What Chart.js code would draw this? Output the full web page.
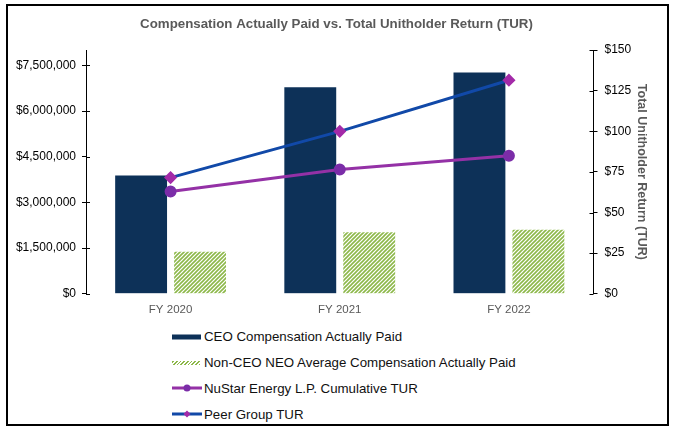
<!DOCTYPE html>
<html>
<head>
<meta charset="utf-8">
<script src="https://cdn.jsdelivr.net/npm/chart.js@4.4.1/dist/chart.umd.min.js"></script>
<style>
  html, body { margin: 0; padding: 0; background: #fff; }
  body { width: 673px; height: 430px; position: relative; overflow: hidden; font-family: 'Liberation Sans', Arial, sans-serif; }
  #wrap { position: absolute; left: 0; top: 0; width: 673px; height: 322px; }
  #frame { position: absolute; left: 6px; top: 4px; width: 663px; height: 422px; border: 2px solid #000; box-sizing: border-box; pointer-events: none; }
  #legend { position: absolute; left: 172px; top: 324px; }
  .row { display: flex; align-items: center; height: 25.8px; font-size: 13.3px; color: #111; }
  .sw { position: relative; width: 32px; height: 10px; flex: none; }
  .sw .box { position: absolute; left: 0; top: 50%; transform: translateY(-50%); }
  .sw .ln { position: absolute; left: 0; width: 30px; top: 50%; height: 3px; transform: translateY(-50%); }
  .sw .mk { position: absolute; left: 15px; top: 50%; }
</style>
</head>
<body>
<div id="wrap"><canvas id="chart"></canvas></div>
<div id="legend"></div>
<div id="frame"></div>
<script>
  const years = ['FY 2020', 'FY 2021', 'FY 2022'];
  const ceoPaid = [3880000, 6780000, 7270000];
  const neoPaid = [1380000, 2020000, 2100000];
  const nustarTur = [63, 76.5, 85];
  const peerTur = [71.5, 100, 131.5];
  const payTicks = [0, 1500000, 3000000, 4500000, 6000000, 7500000];
  const turTicks = [0, 25, 50, 75, 100, 125, 150];
  const seriesNames = [
    'CEO Compensation Actually Paid',
    'Non-CEO NEO Average Compensation Actually Paid',
    'NuStar Energy L.P. Cumulative TUR',
    'Peer Group TUR'
  ];

  const navy = '#0D3158';
  const green = '#8DB84A';

  // hatch fill for the non-CEO bars
  function hatch() {
    const s = 4;
    const c = document.createElement('canvas');
    c.width = s; c.height = s;
    const g = c.getContext('2d');
    g.fillStyle = '#fff';
    g.fillRect(0, 0, s, s);
    g.strokeStyle = green;
    g.lineWidth = 1.6;
    g.beginPath();
    g.moveTo(-1, s + 1); g.lineTo(s + 1, -1);
    g.moveTo(-1, 1); g.lineTo(1, -1);
    g.moveTo(s - 1, s + 1); g.lineTo(s + 1, s - 1);
    g.stroke();
    return g.createPattern(c, 'repeat');
  }

  // short tick marks on the inside of both value axes
  const innerTicks = {
    id: 'innerTicks',
    afterDraw(chart) {
      const ctx = chart.ctx;
      ctx.save();
      ctx.strokeStyle = '#000';
      ctx.lineWidth = 1;
      ['y', 'y1'].forEach(id => {
        const sc = chart.scales[id];
        const x0 = id === 'y' ? sc.right : sc.left;
        const dir = id === 'y' ? 1 : -1;
        sc.ticks.forEach((t, i) => {
          const y = Math.round(sc.getPixelForTick(i)) + 0.5;
          ctx.beginPath();
          ctx.moveTo(x0, y);
          ctx.lineTo(x0 + dir * 4, y);
          ctx.stroke();
        });
      });
      ctx.restore();
    }
  };

  const money = v => '$' + Number(v).toLocaleString('en-US');

  new Chart(document.getElementById('chart'), {
    data: {
      labels: years,
      datasets: [
        { type: 'bar', label: seriesNames[0], data: ceoPaid, backgroundColor: navy, yAxisID: 'y', order: 2,
          categoryPercentage: 0.697, barPercentage: 0.88 },
        { type: 'bar', label: seriesNames[1], data: neoPaid, backgroundColor: hatch(), yAxisID: 'y', order: 2,
          categoryPercentage: 0.697, barPercentage: 0.88 },
        { type: 'line', label: seriesNames[2], data: nustarTur, yAxisID: 'y1', order: 1,
          borderColor: '#9431A6', borderWidth: 3, pointStyle: 'circle', pointRadius: 4.5,
          pointBackgroundColor: '#7B2DA8', pointBorderColor: '#7B2DA8', tension: 0 },
        { type: 'line', label: seriesNames[3], data: peerTur, yAxisID: 'y1', order: 1,
          borderColor: '#1149A8', borderWidth: 3, pointStyle: 'rectRot', pointRadius: 4.5,
          pointBackgroundColor: '#A32AA8', pointBorderColor: '#A32AA8', tension: 0 }
      ]
    },
    options: {
      responsive: true,
      maintainAspectRatio: false,
      animation: false,
      layout: { padding: 0 },
      plugins: {
        legend: { display: false },
        tooltip: { enabled: false },
        title: {
          display: true,
          text: 'Compensation Actually Paid vs. Total Unitholder Return (TUR)',
          color: '#595959',
          font: { family: 'Liberation Sans', size: 13.3, weight: 'bold' },
          padding: { top: 16.6, bottom: 17.6 }
        }
      },
      scales: {
        x: {
          grid: { display: false },
          border: { display: false },
          ticks: { color: '#595959', font: { family: 'Liberation Sans', size: 11.5 }, padding: 1 },
          afterFit: s => { s.height = 28.3; }
        },
        y: {
          position: 'left',
          min: 0, max: 8000000,
          grid: { drawOnChartArea: false, color: '#000', tickLength: 4 },
          border: { color: '#000', width: 1 },
          ticks: { color: '#000', padding: 6,
                   font: { family: 'Liberation Sans', size: 12 }, callback: money },
          afterBuildTicks: s => { s.ticks = payTicks.map(v => ({ value: v })); },
          afterFit: s => { s.width = 86; }
        },
        y1: {
          position: 'right',
          min: 0, max: 150,
          grid: { drawOnChartArea: false, color: '#000', tickLength: 4 },
          border: { color: '#000', width: 1 },
          ticks: { color: '#000', padding: 7,
                   font: { family: 'Liberation Sans', size: 12 }, callback: money },
          afterBuildTicks: s => { s.ticks = turTicks.map(v => ({ value: v })); },
          title: { display: true, text: 'Total Unitholder Return (TUR)', color: '#595959',
                   font: { family: 'Liberation Sans', size: 12.5, weight: 'bold' }, padding: { top: 24 } },
          afterFit: s => { s.width = 79.5; }
        }
      }
    },
    plugins: [innerTicks]
  });

  // legend in a single column under the plot
  const swatches = [
    `<span class="box" style="width:29px;height:5px;background:${navy}"></span>`,
    `<span class="box" style="width:28px;height:4px;background:repeating-linear-gradient(-45deg, ${green} 0 1.2px, #fff 1.2px 2.6px)"></span>`,
    `<span class="ln" style="background:#9431A6"></span><span class="mk" style="width:7px;height:7px;border-radius:50%;background:#7B2DA8;transform:translate(-50%,-50%)"></span>`,
    `<span class="ln" style="background:#1149A8"></span><span class="mk" style="width:5px;height:5px;background:#A32AA8;transform:translate(-50%,-50%) rotate(45deg)"></span>`
  ];
  document.getElementById('legend').innerHTML = seriesNames.map((n, i) =>
    `<div class="row"><span class="sw">${swatches[i]}</span><span>${n}</span></div>`).join('');
</script>
</body>
</html>
